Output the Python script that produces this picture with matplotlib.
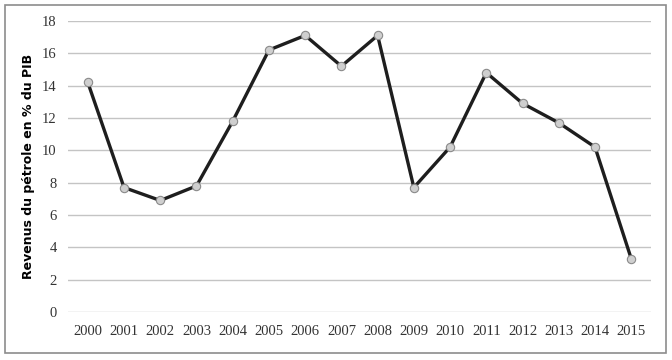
import matplotlib
matplotlib.use('Agg')
from matplotlib import pyplot as plt
from matplotlib.patches import Rectangle
import numpy as np

years = ['2000', '2001', '2002', '2003', '2004', '2005', '2006', '2007',
         '2008', '2009', '2010', '2011', '2012', '2013', '2014', '2015']
revenus = [14.2, 7.7, 6.9, 7.8, 11.8, 16.2, 17.1, 15.2,
           17.1, 7.7, 10.2, 14.8, 12.9, 11.7, 10.2, 3.3]
yticks = [0, 2, 4, 6, 8, 10, 12, 14, 16, 18]

fig = plt.figure(figsize=(6.72, 3.6), dpi=100)
ax = fig.add_axes([0.101, 0.133, 0.868, 0.809])

# cadre extérieur
fig.patches.append(Rectangle((5 / 672, 7 / 360), 661 / 672, 348 / 360,
                             transform=fig.transFigure, fill=False,
                             edgecolor='#8c8c8c', linewidth=1.2))

x = np.arange(len(years))
ax.plot(x, revenus, color='#1e1e1e', linewidth=2.4, marker='o',
        markersize=6, markerfacecolor='#cfcfcf', markeredgecolor='#8a8a8a',
        markeredgewidth=0.8, zorder=3)

ax.set_xlim(-0.55, 15.55)
ax.set_ylim(0, 18)
ax.set_yticks(yticks)
ax.set_xticks(x)
ax.set_xticklabels(years)
for lab in ax.get_xticklabels() + ax.get_yticklabels():
    lab.set_family('Liberation Serif')
    lab.set_fontsize(10.5)
    lab.set_color('#333333')
ax.tick_params(length=0, pad=8)
ax.tick_params(axis='x', pad=9)
ax.grid(axis='y', color='#c4c4c4', linewidth=1)
ax.set_axisbelow(True)
for s in ax.spines.values():
    s.set_visible(False)

ax.set_ylabel('Revenus du pétrole en % du PIB', fontsize=9,
              fontweight='bold', family='DejaVu Sans', labelpad=5)

fig.savefig('out.png', dpi=100)
